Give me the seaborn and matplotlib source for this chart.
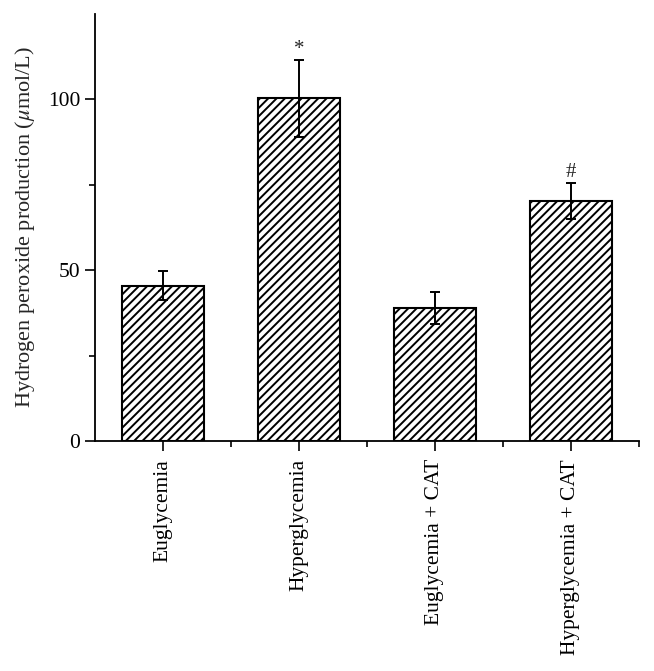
import matplotlib
matplotlib.use("Agg")
import matplotlib.pyplot as plt
import seaborn as sns
import pandas as pd
from matplotlib.ticker import FixedLocator

# Data
groups = ['Euglycemia', 'Hyperglycemia', 'Euglycemia + CAT', 'Hyperglycemia + CAT']
h2o2 = [45.5, 100.3, 38.9, 70.2]
sem = [4.3, 11.3, 4.6, 5.3]
marks = ['', '*', '', '#']

df = pd.DataFrame({'Group': groups, 'H2O2': h2o2, 'SEM': sem})

sns.set_style('ticks')
plt.rcParams['font.family'] = ['Liberation Serif', 'DejaVu Serif']
plt.rcParams['mathtext.fontset'] = 'stix'
plt.rcParams['hatch.linewidth'] = 1.4

fig = plt.figure(figsize=(6.54, 6.71), dpi=100)
ax = fig.add_axes([0.1453, 0.3428, 0.8317, 0.6363])

sns.barplot(data=df, x='Group', y='H2O2', order=groups, color='white',
            edgecolor='black', linewidth=1.5, width=0.6, hatch='////',
            errorbar=None, ax=ax)
for bar in ax.patches:
    bar.set_facecolor('white')
    bar.set_edgecolor('black')

ax.errorbar(range(len(groups)), df['H2O2'], yerr=df['SEM'], fmt='none',
            ecolor='black', elinewidth=1.4, capsize=3.6, capthick=1.4)

for i, (m, v, e) in enumerate(zip(marks, h2o2, sem)):
    if m:
        ax.text(i, v + e + 0.3, m, ha='center', va='bottom', fontsize=15)

ax.set_xlim(-0.5, 3.5)
ax.set_ylim(0, 125)
ax.yaxis.set_major_locator(FixedLocator([0, 50, 100]))
ax.yaxis.set_minor_locator(FixedLocator([25, 75]))
ax.xaxis.set_minor_locator(FixedLocator([0.5, 1.5, 2.5, 3.5]))
ax.tick_params(axis='both', which='major', direction='out', length=7,
               width=1.2, colors='black', labelsize=15.5)
ax.tick_params(axis='both', which='minor', direction='out', length=4,
               width=1.2, colors='black')
ax.tick_params(axis='x', pad=6)
ax.set_xticks(range(len(groups)))
ax.set_xticklabels(groups, rotation=90, fontsize=15.5)

ax.set_xlabel('')
ax.set_ylabel(r'Hydrogen peroxide production ($\mu$mol/L)', fontsize=16, labelpad=8)

sns.despine(ax=ax)
for s in ['left', 'bottom']:
    ax.spines[s].set_linewidth(1.3)
    ax.spines[s].set_color('black')

fig.savefig('out.png', dpi=100)
